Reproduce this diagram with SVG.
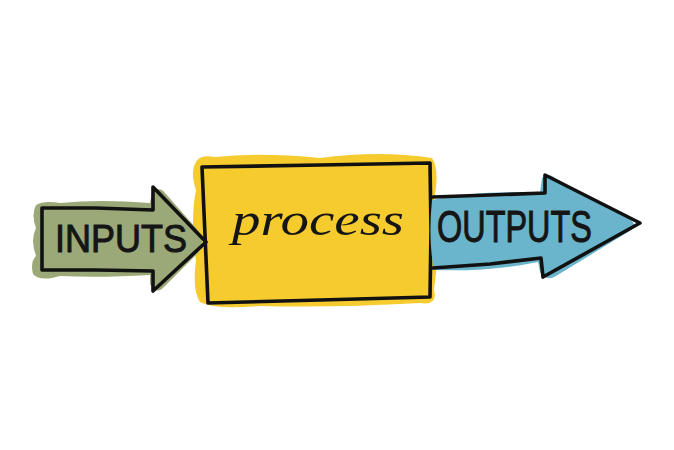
<svg xmlns="http://www.w3.org/2000/svg" width="674" height="450" viewBox="0 0 674 450">
<style>
.ol{fill:none;stroke:#111;stroke-width:3.6;stroke-linejoin:round;stroke-linecap:round}
.lbl{fill:#151515;stroke:#151515;stroke-width:1;font-family:"Liberation Sans Narrow","Liberation Sans",sans-serif}
.proc{fill:#151515;font-family:"Liberation Serif",serif;font-style:italic}
</style>
<rect width="674" height="450" fill="#ffffff"/>
<g id="process">
<path d="M196,162 Q200,154 215,157 Q260,152 320,158 Q380,150 432,158 Q440,170 434,200 Q440,250 434,290 Q438,306 420,303 Q330,308 260,306 Q215,310 200,302 Q192,290 196,260 Q190,220 196,190 Q190,172 196,162 Z" fill="#f5cb2e"/>
<path class="ol" d="M202,167 L320,165 L430,163 L431,230 L430,297 L320,300 L208,303 L205,235 Z"/>
<text class="proc" x="232" y="235" font-size="46" textLength="172" lengthAdjust="spacingAndGlyphs">process</text>
</g>
<g id="inputs">
<path d="M36,205 Q44,200 60,203 Q100,199 150,203 L152,192 Q160,186 165,193 L196,228 Q206,240 199,252 L165,286 Q156,296 150,284 L150,275 Q100,278 60,276 Q40,282 33,274 Q30,262 36,256 Q30,240 36,228 Q31,215 36,205 Z" fill="#9aa977"/>
<path class="ol" d="M42,208 L96,208 L153,210 L153,187 L206,242 L153,291 L153,271 L96,270 L42,270 Z"/>
<text class="lbl" x="55" y="252" font-size="39" textLength="132" lengthAdjust="spacingAndGlyphs">INPUTS</text>
</g>
<g id="outputs">
<path d="M432,200 Q480,190 540,193 L542,178 Q548,172 555,178 L628,218 Q640,225 628,232 L556,276 Q546,282 540,272 L538,262 Q490,272 434,270 Q428,240 432,200 Z" fill="#6ab4cc"/>
<path class="ol" d="M433,197 L490,195 L545,193 L545,175 L640,223 L543,277 L541,258 L490,264 L433,268"/>
<text class="lbl" x="437" y="242" font-size="44" textLength="155" lengthAdjust="spacingAndGlyphs">OUTPUTS</text>
</g>
</svg>
